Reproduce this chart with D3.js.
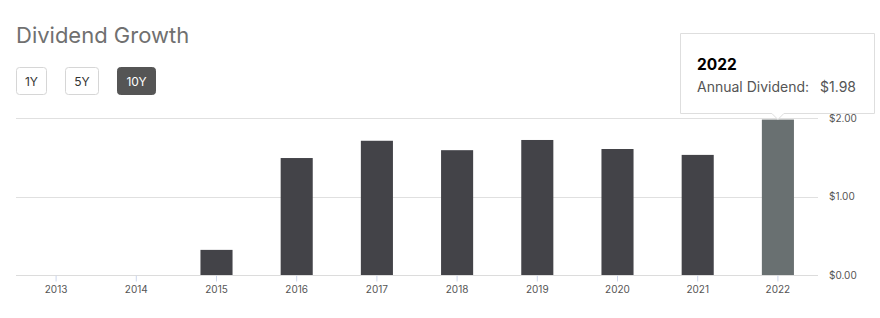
<!DOCTYPE html>
<html>
<head>
<meta charset="utf-8">
<script src="https://cdn.jsdelivr.net/npm/d3@7"></script>
<style>
  html, body { margin: 0; padding: 0; background: #fff; }
  svg { display: block; font-family: Inter, "Helvetica Neue", "Liberation Sans", Arial, sans-serif; }
</style>
</head>
<body>
<svg id="chart" width="880" height="318"></svg>
<script>
// Annual dividend per share, by year
const years = ["2013", "2014", "2015", "2016", "2017", "2018", "2019", "2020", "2021", "2022"];
const dividends = [0, 0, 0.32, 1.49, 1.71, 1.59, 1.72, 1.605, 1.53, 1.98];
const yTicks = [0, 1, 2];
const ranges = ["1Y", "5Y", "10Y"];
const activeRange = "10Y";
const hoverYear = "2022";

const svg = d3.select("#chart");

// Title
svg.append("text")
  .attr("x", 16).attr("y", 43)
  .attr("font-size", 22).attr("fill", "#707070")
  .text("Dividend Growth");

// Range buttons
const btnX = [16, 65, 117];
const btnW = [30, 33, 38];
ranges.forEach((r, i) => {
  const active = r === activeRange;
  svg.append("rect")
    .attr("x", btnX[i] + 0.5).attr("y", 67.5)
    .attr("width", btnW[i]).attr("height", 27)
    .attr("rx", 3)
    .attr("fill", active ? "#555555" : "#fff")
    .attr("stroke", active ? "#555555" : "#d6d6d6");
  svg.append("text")
    .attr("x", btnX[i] + 0.5 + btnW[i] / 2).attr("y", 85.5)
    .attr("text-anchor", "middle")
    .attr("font-size", 12)
    .attr("fill", active ? "#fff" : "#333")
    .text(r);
});

// Scales
const x = d3.scaleBand().domain(years).range([16, 818]).paddingInner(0.6).paddingOuter(0.3);
const y = d3.scaleLinear().domain([0, 2]).range([275, 118]);

// Gridlines
svg.append("g")
  .selectAll("line")
  .data(yTicks.filter(t => t !== 0))
  .join("line")
  .attr("x1", 16).attr("x2", 818)
  .attr("y1", d => Math.round(y(d)) + 0.5).attr("y2", d => Math.round(y(d)) + 0.5)
  .attr("stroke", "#e0e0e0");

// Bars
svg.append("g")
  .selectAll("rect")
  .data(years.map((yr, i) => ({ yr, v: dividends[i] })))
  .join("rect")
  .attr("x", d => x(d.yr))
  .attr("width", x.bandwidth())
  .attr("y", d => y(d.v))
  .attr("height", d => y(0) - y(d.v))
  .attr("fill", d => d.yr === hoverYear ? "#697071" : "#434348");

// X axis
const xAxis = svg.append("g")
  .attr("transform", `translate(0,${Math.round(y(0)) + 0.5})`)
  .call(d3.axisBottom(x).tickSize(6).tickPadding(4).tickSizeOuter(0));
xAxis.attr("font-family", null);
xAxis.select(".domain").attr("stroke", "#dcdcdc").attr("d", "M16,0H818");
xAxis.selectAll(".tick line").attr("stroke", "#ccd6eb");
xAxis.selectAll(".tick text").attr("font-size", 10).attr("fill", "#555");

// Y axis labels on the right
const yAxis = svg.append("g")
  .attr("transform", "translate(829,0)")
  .call(d3.axisRight(y).tickValues(yTicks).tickSize(0).tickPadding(0).tickFormat(d3.format("$.2f")));
yAxis.select(".domain").remove();
yAxis.attr("font-family", null);
yAxis.selectAll(".tick text").attr("font-size", 10).attr("fill", "#555").attr("dy", "0.32em");

// Tooltip for the hovered year
const hi = years.indexOf(hoverYear);
const cx = x(hoverYear) + x.bandwidth() / 2;
const tipTop = 33.5, tipBottom = 113.5, tipLeft = 680.5, tipRight = 874.5;
const tipPath = `M${tipLeft},${tipTop}H${tipRight}V${tipBottom}H${cx + 6}L${cx},${tipBottom + 6}L${cx - 6},${tipBottom}H${tipLeft}Z`;
svg.append("path")
  .attr("d", tipPath)
  .attr("fill", "#fff")
  .attr("stroke", "#dedede");
svg.append("text")
  .attr("x", 697).attr("y", 70)
  .attr("font-size", 15.5).attr("font-weight", "bold").attr("fill", "#000")
  .text(hoverYear);
svg.append("text")
  .attr("x", 697).attr("y", 92)
  .attr("font-size", 14).attr("fill", "#555")
  .text("Annual Dividend:");
svg.append("text")
  .attr("x", 856).attr("y", 92)
  .attr("text-anchor", "end")
  .attr("font-size", 14).attr("fill", "#555")
  .text(d3.format("$.2f")(dividends[hi]));
</script>
</body>
</html>
